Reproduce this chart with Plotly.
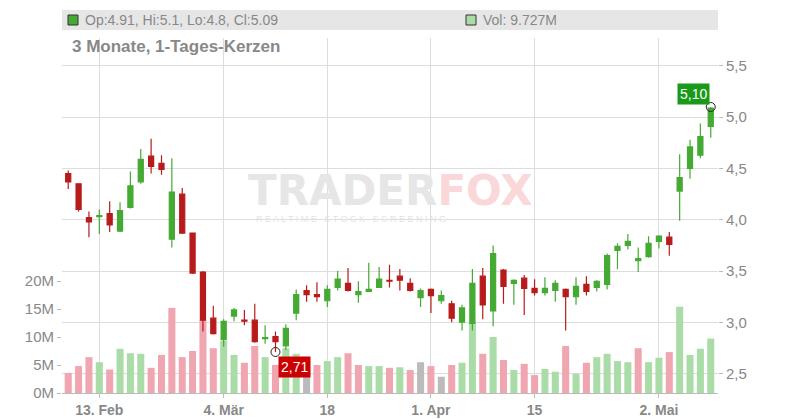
import plotly.graph_objects as go
import pandas as pd

# trading days (US market, Feb 10 - May 9 2025)
holidays = ["2025-02-17", "2025-04-18"]
dates = [d for d in pd.bdate_range("2025-02-10", "2025-05-09") if d.strftime("%Y-%m-%d") not in holidays]

opens = [4.45, 4.35, 4.02, 4.03, 4.06, 3.89, 4.12, 4.37, 4.62, 4.55,
         3.81, 4.25, 3.87, 3.49, 3.04, 2.83, 3.06, 3.02, 3.02, 2.84,
         2.86, 2.77, 3.09, 3.31, 3.27, 3.21, 3.34, 3.38, 3.27, 3.30,
         3.34, 3.41, 3.45, 3.38, 3.24, 3.32, 3.21, 3.18, 3.00, 2.99,
         3.45, 3.11, 3.51, 3.38, 3.43, 3.33, 3.29, 3.31, 3.32, 3.25,
         3.37, 3.34, 3.37, 3.70, 3.75, 3.60, 3.64, 3.79, 3.83, 4.28,
         4.50, 4.63, 4.91]
highs = [4.48, 4.35, 4.08, 4.10, 4.18, 4.17, 4.47, 4.69, 4.79, 4.63,
         4.60, 4.31, 3.87, 3.50, 3.16, 3.03, 3.14, 3.12, 3.18, 2.97,
         2.91, 2.98, 3.32, 3.36, 3.39, 3.36, 3.50, 3.53, 3.40, 3.58,
         3.54, 3.56, 3.52, 3.43, 3.33, 3.33, 3.31, 3.21, 3.17, 3.52,
         3.53, 3.75, 3.52, 3.42, 3.46, 3.42, 3.44, 3.41, 3.33, 3.44,
         3.45, 3.41, 3.67, 3.77, 3.86, 3.73, 3.84, 3.85, 3.88, 4.64,
         4.78, 4.94, 5.10]
lows = [4.30, 4.08, 3.83, 3.86, 3.88, 3.88, 4.11, 4.35, 4.45, 4.44,
        3.73, 3.86, 3.47, 2.91, 2.88, 2.76, 3.01, 2.97, 2.80, 2.79,
        2.71, 2.73, 3.02, 3.20, 3.20, 3.15, 3.31, 3.30, 3.19, 3.30,
        3.34, 3.34, 3.31, 3.30, 3.15, 3.09, 3.18, 3.00, 2.92, 2.92,
        3.03, 2.96, 3.18, 3.17, 3.07, 3.26, 3.26, 3.20, 2.92, 3.17,
        3.26, 3.30, 3.32, 3.52, 3.71, 3.49, 3.63, 3.72, 3.65, 3.99,
        4.40, 4.60, 4.80]
closes = [4.37, 4.10, 3.98, 4.04, 3.95, 4.09, 4.33, 4.59, 4.52, 4.49,
          4.27, 3.87, 3.48, 3.02, 2.89, 3.01, 3.12, 3.01, 2.81, 2.85,
          2.81, 2.94, 3.27, 3.27, 3.25, 3.32, 3.42, 3.31, 3.30, 3.32,
          3.42, 3.40, 3.41, 3.31, 3.31, 3.26, 3.26, 3.04, 3.14, 3.38,
          3.17, 3.67, 3.35, 3.41, 3.33, 3.29, 3.33, 3.38, 3.25, 3.35,
          3.30, 3.40, 3.65, 3.74, 3.79, 3.62, 3.77, 3.84, 3.76, 4.41,
          4.71, 4.81, 5.09]
volumes = [3.6, 4.8, 6.4, 5.5, 4.2, 7.9, 7.1, 7.0, 4.5, 6.8,
           15.2, 6.4, 7.5, 13.0, 8.0, 9.3, 6.8, 5.4, 8.4, 6.4,
           5.0, 8.0, 7.0, 3.2, 5.0, 5.7, 6.4, 7.1, 5.0, 4.8,
           4.8, 4.5, 4.6, 4.1, 5.5, 4.8, 2.9, 5.0, 5.4, 12.5,
           7.0, 10.0, 5.9, 4.1, 5.2, 3.2, 4.3, 3.8, 8.4, 3.4,
           5.4, 6.4, 7.0, 5.7, 5.5, 8.0, 5.5, 6.3, 7.3, 15.4,
           6.8, 7.9, 9.727]

xs = list(range(len(dates)))
tick_idx = [3, 15, 25, 35, 45, 57]
mon = {2: "Feb", 3: "Mär", 4: "Apr", 5: "Mai"}
tick_text = [f"<b>{dates[i].day}. {mon[dates[i].month]}</b>" if dates[i].day < 4 or i in (3, 15)
             else f"<b>{dates[i].day}</b>" for i in tick_idx]

GREEN, RED = "#44aa33", "#b81b1b"
vol_colors = []
for i, c in enumerate(closes):
    p = closes[i - 1] if i else opens[i]
    vol_colors.append("#aadca8" if c > p else "#f0a6b0" if c < p else "#bbbbbb")

fig = go.Figure()
fig.add_trace(go.Bar(x=xs, y=volumes, marker_color=vol_colors, marker_line_width=0,
                     width=0.68, yaxis="y"))
fig.add_trace(go.Candlestick(x=xs, open=opens, high=highs, low=lows, close=closes, yaxis="y2",
                             whiskerwidth=0,
                             increasing=dict(line=dict(color=GREEN, width=1.2), fillcolor=GREEN),
                             decreasing=dict(line=dict(color=RED, width=1.2), fillcolor=RED)))
# circles at extreme points
lo_i = lows.index(min(lows))
hi_i = highs.index(max(highs))
fig.add_trace(go.Scatter(x=[lo_i, hi_i], y=[lows[lo_i], highs[hi_i]], yaxis="y2", mode="markers",
                         marker=dict(size=9, color="rgba(0,0,0,0)", line=dict(color="#222", width=1))))

grey = "#888888"
fig.update_layout(
    width=800, height=420, showlegend=False, plot_bgcolor="white", paper_bgcolor="white",
    margin=dict(l=54, r=90, t=30, b=35, autoexpand=False), separators=",.",
    font=dict(family="Liberation Sans, Arial", color=grey, size=14),
    xaxis=dict(range=[-0.6, 62.7], tickvals=tick_idx, ticktext=tick_text, showgrid=True,
               gridcolor="#dddddd", rangeslider=dict(visible=False), showline=True,
               linecolor="#bbbbbb", ticks="outside", ticklen=4, tickcolor="#bbbbbb",
               tickfont=dict(size=14, color=grey), zeroline=False),
    yaxis=dict(range=[0, 63.4], tickvals=[0, 5, 10, 15, 20], ticktext=["0M", "5M", "10M", "15M", "20M"],
               showgrid=False, ticks="outside", ticklen=4, tickcolor="#bbbbbb", zeroline=False,
               tickfont=dict(size=15, color=grey)),
    yaxis2=dict(range=[2.31, 5.773], overlaying="y", side="right", tickvals=[2.5, 3, 3.5, 4, 4.5, 5, 5.5],
                tickformat=".1f", showgrid=True, gridcolor="#dddddd", zeroline=False, ticks="outside",
                ticklen=4, tickcolor="#bbbbbb", tickfont=dict(size=15, color=grey)),
)

# top info band
fig.add_shape(type="rect", xref="paper", yref="paper", x0=0, x1=1, y0=1 + 8 / 355, y1=1 + 28 / 355,
              fillcolor="#e6e6e6", line_width=0)
fig.add_shape(type="rect", xref="paper", yref="paper", x0=6 / 656, x1=16 / 656,
              y0=1 + 13 / 355, y1=1 + 23 / 355, fillcolor=GREEN, line=dict(color="#333", width=1))
fig.add_shape(type="rect", xref="paper", yref="paper", x0=404 / 656, x1=414 / 656,
              y0=1 + 13 / 355, y1=1 + 23 / 355, fillcolor="#aadca8", line=dict(color="#333", width=1))
fig.add_annotation(xref="paper", yref="paper", x=21 / 656, y=1 + 18 / 355, xanchor="left", yanchor="middle",
                   showarrow=False,
                   text=f"Op:{opens[-1]}, Hi:{highs[-1]:g}, Lo:{lows[-1]:g}, Cl:{closes[-1]}",
                   font=dict(size=14, color=grey))
fig.add_annotation(xref="paper", yref="paper", x=419 / 656, y=1 + 18 / 355, xanchor="left", yanchor="middle",
                   showarrow=False, text=f"Vol: {volumes[-1]}M", font=dict(size=14, color=grey))
fig.add_annotation(xref="paper", yref="paper", x=8 / 656, y=1 - 9 / 355, xanchor="left", yanchor="middle",
                   showarrow=False, text="<b>3 Monate, 1-Tages-Kerzen</b>", font=dict(size=17, color=grey))

# watermark
fig.add_annotation(xref="paper", yref="paper", x=0.5, y=0.57, showarrow=False,
                   text="<b><span style='color:#e6e6e6'>TRADER</span><span style='color:#fad8da'>FOX</span></b>",
                   font=dict(size=42, family="DejaVu Sans"))
fig.add_annotation(xref="paper", yref="paper", x=0.44, y=0.49, showarrow=False,
                   text="R E A L T I M E   S T O C K   S C R E E N I N G", font=dict(size=9, color="#e4e4e4"))

# price labels
fig.add_annotation(x=hi_i, y=highs[hi_i], yref="y2", xanchor="right", yanchor="bottom", xshift=-1, yshift=2,
                   showarrow=False, text=f"{highs[hi_i]:.2f}".replace(".", ","), bgcolor="#1a9a1a",
                   font=dict(size=14, color="white"), borderpad=2)
fig.add_annotation(x=lo_i, y=lows[lo_i], yref="y2", xanchor="left", yanchor="top", xshift=3, yshift=-4,
                   showarrow=False, text=f"{lows[lo_i]:.2f}".replace(".", ","), bgcolor="#cc0000",
                   font=dict(size=14, color="white"), borderpad=2)

fig.write_html("out.html")
